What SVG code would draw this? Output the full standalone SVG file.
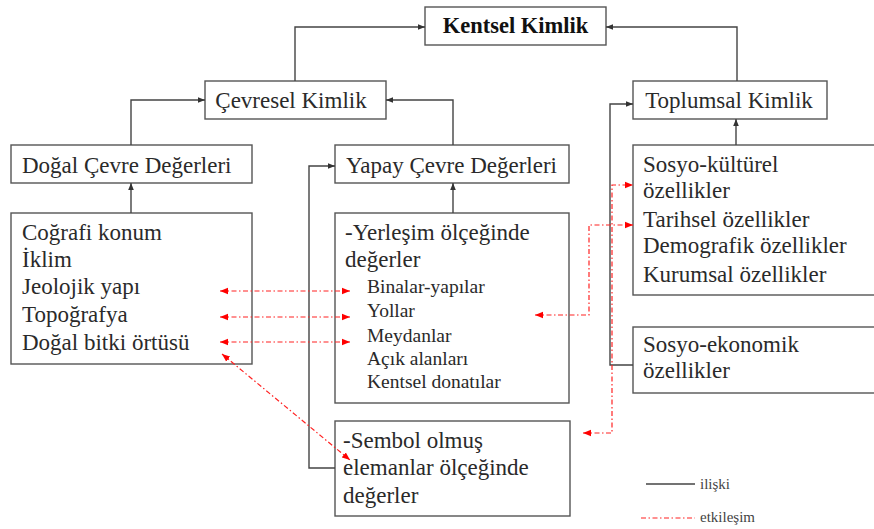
<svg xmlns="http://www.w3.org/2000/svg" width="874" height="529" viewBox="0 0 874 529">
<defs>
<marker id="ab" viewBox="0 0 10 10" refX="10" refY="5" markerWidth="7" markerHeight="7" markerUnits="userSpaceOnUse" orient="auto-start-reverse"><path d="M0,1 L10,5 L0,9 z" fill="#333"/></marker>
<marker id="ar" viewBox="0 0 10 10" refX="10" refY="5" markerWidth="8" markerHeight="8" markerUnits="userSpaceOnUse" orient="auto-start-reverse"><path d="M0,1 L10,5 L0,9 z" fill="#f00"/></marker>
<style>
rect{fill:#fff;stroke:#555;stroke-width:1.4}
text{font-family:'Liberation Serif','DejaVu Serif',serif;fill:#2a2a2a;font-size:23px}
.s{font-size:19.5px}
.b{font-weight:bold;fill:#111;font-size:22.5px}
.lg{font-size:15px;fill:#444}
.k{fill:none;stroke:#444;stroke-width:1.4}
.r{fill:none;stroke:#f22;stroke-width:1.2;stroke-dasharray:5 2.5 1.5 2.5}
</style>
</defs>
<rect width="874" height="529" style="fill:#fff;stroke:none"/>
<g id="kentsel"><rect x="425" y="7" width="181" height="38"/><text class="b" x="515.5" y="33" text-anchor="middle">Kentsel Kimlik</text></g>
<g id="cevresel"><rect x="205" y="81" width="181" height="38"/><text x="291" y="108" text-anchor="middle">Çevresel Kimlik</text></g>
<g id="toplumsal"><rect x="633" y="81" width="194" height="38"/><text x="729" y="108" text-anchor="middle">Toplumsal Kimlik</text></g>
<g id="dogal"><rect x="11" y="145" width="241" height="38"/><text x="22" y="173">Doğal Çevre Değerleri</text></g>
<g id="yapay"><rect x="335" y="145" width="234" height="38"/><text x="346" y="173">Yapay Çevre Değerleri</text></g>
<g id="dogal-liste"><rect x="11" y="213" width="241" height="151"/>
<text x="22" y="240">Coğrafi konum</text>
<text x="22" y="267">İklim</text>
<text x="22" y="294">Jeolojik yapı</text>
<text x="22" y="322">Topoğrafya</text>
<text x="22" y="350">Doğal bitki örtüsü</text></g>
<g id="yerlesim"><rect x="335" y="213" width="234" height="190"/>
<text x="345" y="240">-Yerleşim ölçeğinde</text>
<text x="345" y="267">değerler</text>
<text class="s" x="367" y="293">Binalar-yapılar</text>
<text class="s" x="367" y="317">Yollar</text>
<text class="s" x="367" y="342">Meydanlar</text>
<text class="s" x="367" y="365">Açık alanları</text>
<text class="s" x="367" y="388">Kentsel  donatılar</text></g>
<g id="sembol"><rect x="335" y="421" width="235" height="95"/>
<text x="343" y="448">-Sembol olmuş</text>
<text x="343" y="475">elemanlar ölçeğinde</text>
<text x="343" y="503">değerler</text></g>
<g id="sosyokulturel"><rect x="633" y="145" width="250" height="150"/>
<text x="643" y="172">Sosyo-kültürel</text>
<text x="643" y="198">özellikler</text>
<text x="643" y="227">Tarihsel özellikler</text>
<text x="643" y="253">Demografik özellikler</text>
<text x="643" y="282">Kurumsal özellikler</text></g>
<g id="sosyoekonomik"><rect x="633" y="327" width="250" height="66"/>
<text x="643" y="352">Sosyo-ekonomik</text>
<text x="643" y="378">özellikler</text></g>
<g id="connectors">
<path class="k" d="M295,81 V27 H425" marker-end="url(#ab)"/>
<path class="k" d="M737,81 V27 H606" marker-end="url(#ab)"/>
<path class="k" d="M131,145 V100 H205" marker-end="url(#ab)"/>
<path class="k" d="M453,145 V100 H386" marker-end="url(#ab)"/>
<path class="k" d="M131,213 V183" marker-end="url(#ab)"/>
<path class="k" d="M453,213 V183" marker-end="url(#ab)"/>
<path class="k" d="M736,145 V119" marker-end="url(#ab)"/>
<path class="k" d="M335,468 H309 V166 H335" marker-end="url(#ab)"/>
<path class="k" d="M633,365 H610 V104 H633" marker-end="url(#ab)"/>
<path class="r" d="M220,291 H350" marker-start="url(#ar)" marker-end="url(#ar)"/>
<path class="r" d="M220,317 H350" marker-start="url(#ar)" marker-end="url(#ar)"/>
<path class="r" d="M220,342 H350" marker-start="url(#ar)" marker-end="url(#ar)"/>
<path class="r" d="M222,354 L350,460" marker-start="url(#ar)" marker-end="url(#ar)"/>
<path class="r" d="M535,315 H589 V225 H633" marker-start="url(#ar)" marker-end="url(#ar)"/>
<path class="r" d="M583,433 H612 V185 H633" marker-start="url(#ar)" marker-end="url(#ar)"/>
</g>
<g id="legend">
<path class="k" d="M646,484 H695"/>
<text class="lg" x="700" y="489">ilişki</text>
<path class="r" d="M641,518 H695"/>
<text class="lg" x="700" y="522">etkileşim</text>
</g>
</svg>
